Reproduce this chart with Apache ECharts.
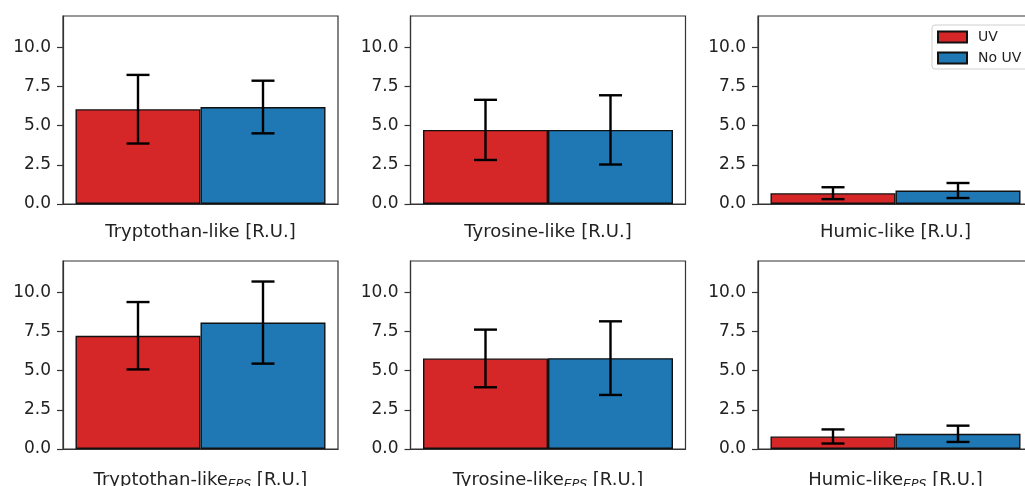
<!DOCTYPE html>
<html>
<head>
<meta charset="utf-8">
<script src="https://cdn.jsdelivr.net/npm/echarts@6/dist/echarts.min.js"></script>
<style>
html,body{margin:0;padding:0;background:#fff;}
#chart{width:1025px;height:486px;}
</style>
</head>
<body>
<div id="chart"></div>
<script>
// ---- data ----
const compounds = ['Tryptothan-like', 'Tyrosine-like', 'Humic-like'];
const unitSuffix = ' [R.U.]';
const subscript = 'EPS';
const seriesNames = ['UV', 'No UV'];
const yTicks = [0, 2.5, 5, 7.5, 10];

const uvMean = [6.05, 4.73, 0.69];
const uvErr = [2.19, 1.92, 0.38];
const noUvMean = [6.19, 4.73, 0.86];
const noUvErr = [1.68, 2.21, 0.48];

const uvMeanEps = [7.23, 5.78, 0.80];
const uvErrEps = [2.15, 1.84, 0.45];
const noUvMeanEps = [8.07, 5.80, 0.97];
const noUvErrEps = [2.62, 2.35, 0.52];

// ---- layout ----
const FONT = 'DejaVu Sans';
const colLeft = [63, 410.5, 758];
const rowTop = [16, 261];
const gw = 275, gh = 188;
const colors = ['#d62728', '#1f77b4'];
const GAP = 0.0909; // barCategoryGap fraction

const grids = [], xAxes = [], yAxes = [], series = [];

function errRender(params, api) {
  const low = api.value(1), high = api.value(2), side = api.value(3);
  const pTop = api.coord([0, high]);
  const pBot = api.coord([0, low]);
  const band = api.size([1, 0])[0];
  const off = side * band * (1 - GAP) / 4;
  const cx = pTop[0] + off;
  const cap = 11.5;
  const st = { stroke: '#000', lineWidth: 2.4 };
  return {
    type: 'group',
    children: [
      { type: 'line', shape: { x1: cx, y1: pTop[1], x2: cx, y2: pBot[1] }, style: st },
      { type: 'line', shape: { x1: cx - cap, y1: pTop[1], x2: cx + cap, y2: pTop[1] }, style: st },
      { type: 'line', shape: { x1: cx - cap, y1: pBot[1], x2: cx + cap, y2: pBot[1] }, style: st }
    ]
  };
}

let gi = 0;
for (let r = 0; r < 2; r++) {
  for (let c = 0; c < 3; c++) {
    grids.push({
      left: colLeft[c], top: rowTop[r], width: gw, height: gh,
      containLabel: false, outerBoundsMode: 'none',
      show: true, borderColor: '#333', borderWidth: 1.2, backgroundColor: 'transparent'
    });
    const label = r === 0
      ? compounds[c] + unitSuffix
      : '{a|' + compounds[c] + '}{s|' + subscript + '}{a|' + unitSuffix + '}';
    xAxes.push({
      type: 'category', gridIndex: gi, data: [label],
      axisLine: { lineStyle: { color: '#333', width: 1.2 } },
      axisTick: { alignWithLabel: true, length: 7, lineStyle: { color: '#333', width: 1.2 } },
      axisLabel: {
        fontFamily: FONT, fontSize: 18, color: '#222', margin: r === 0 ? 19 : 21,
        rich: {
          a: { fontFamily: FONT, fontSize: 18, color: '#222' },
          s: { fontFamily: FONT, fontSize: 12.5, fontStyle: 'italic', color: '#222', padding: [8, 0, 0, 0] }
        }
      },
      splitLine: { show: false }
    });
    yAxes.push({
      type: 'value', gridIndex: gi, min: 0, max: 12,
      axisLine: { show: true, lineStyle: { color: '#333', width: 1.2 } },
      axisTick: { show: true, length: 6, customValues: yTicks, lineStyle: { color: '#333', width: 1.2 } },
      axisLabel: {
        fontFamily: FONT, fontSize: 17, color: '#222', margin: 12,
        customValues: yTicks,
        formatter: v => v.toFixed(1)
      },
      splitLine: { show: false }
    });
    const m = r === 0 ? [uvMean[c], noUvMean[c]] : [uvMeanEps[c], noUvMeanEps[c]];
    const e = r === 0 ? [uvErr[c], noUvErr[c]] : [uvErrEps[c], noUvErrEps[c]];
    for (let s = 0; s < 2; s++) {
      series.push({
        type: 'bar', name: seriesNames[s], xAxisIndex: gi, yAxisIndex: gi,
        data: [m[s]], barGap: '0%', barCategoryGap: (GAP * 100) + '%',
        itemStyle: { color: colors[s], borderColor: '#111', borderWidth: 1.4 },
        emphasis: { disabled: true }, animation: false
      });
    }
    for (let s = 0; s < 2; s++) {
      series.push({
        type: 'custom', xAxisIndex: gi, yAxisIndex: gi,
        renderItem: errRender,
        encode: { x: 0, y: [1, 2] },
        data: [[0, m[s] - e[s], m[s] + e[s], s === 0 ? -1 : 1]],
        z: 10, animation: false, silent: true
      });
    }
    gi++;
  }
}

const chart = echarts.init(document.getElementById('chart'));
chart.setOption({
  animation: false,
  backgroundColor: '#fff',
  grid: grids,
  xAxis: xAxes,
  yAxis: yAxes,
  legend: {
    data: seriesNames.map(n => ({ name: n, icon: 'rect' })),
    orient: 'vertical', left: 932, top: 25,
    itemWidth: 29, itemHeight: 11, itemGap: 7,
    padding: [5, 8, 4, 5],
    borderColor: '#cfcfcf', borderWidth: 1, borderRadius: 3,
    backgroundColor: 'rgba(255,255,255,0.8)',
    textStyle: { fontFamily: FONT, fontSize: 14, color: '#222', padding: [0, 0, 0, 6] },
    selectedMode: false
  },
  series: series
});
</script>
</body>
</html>
